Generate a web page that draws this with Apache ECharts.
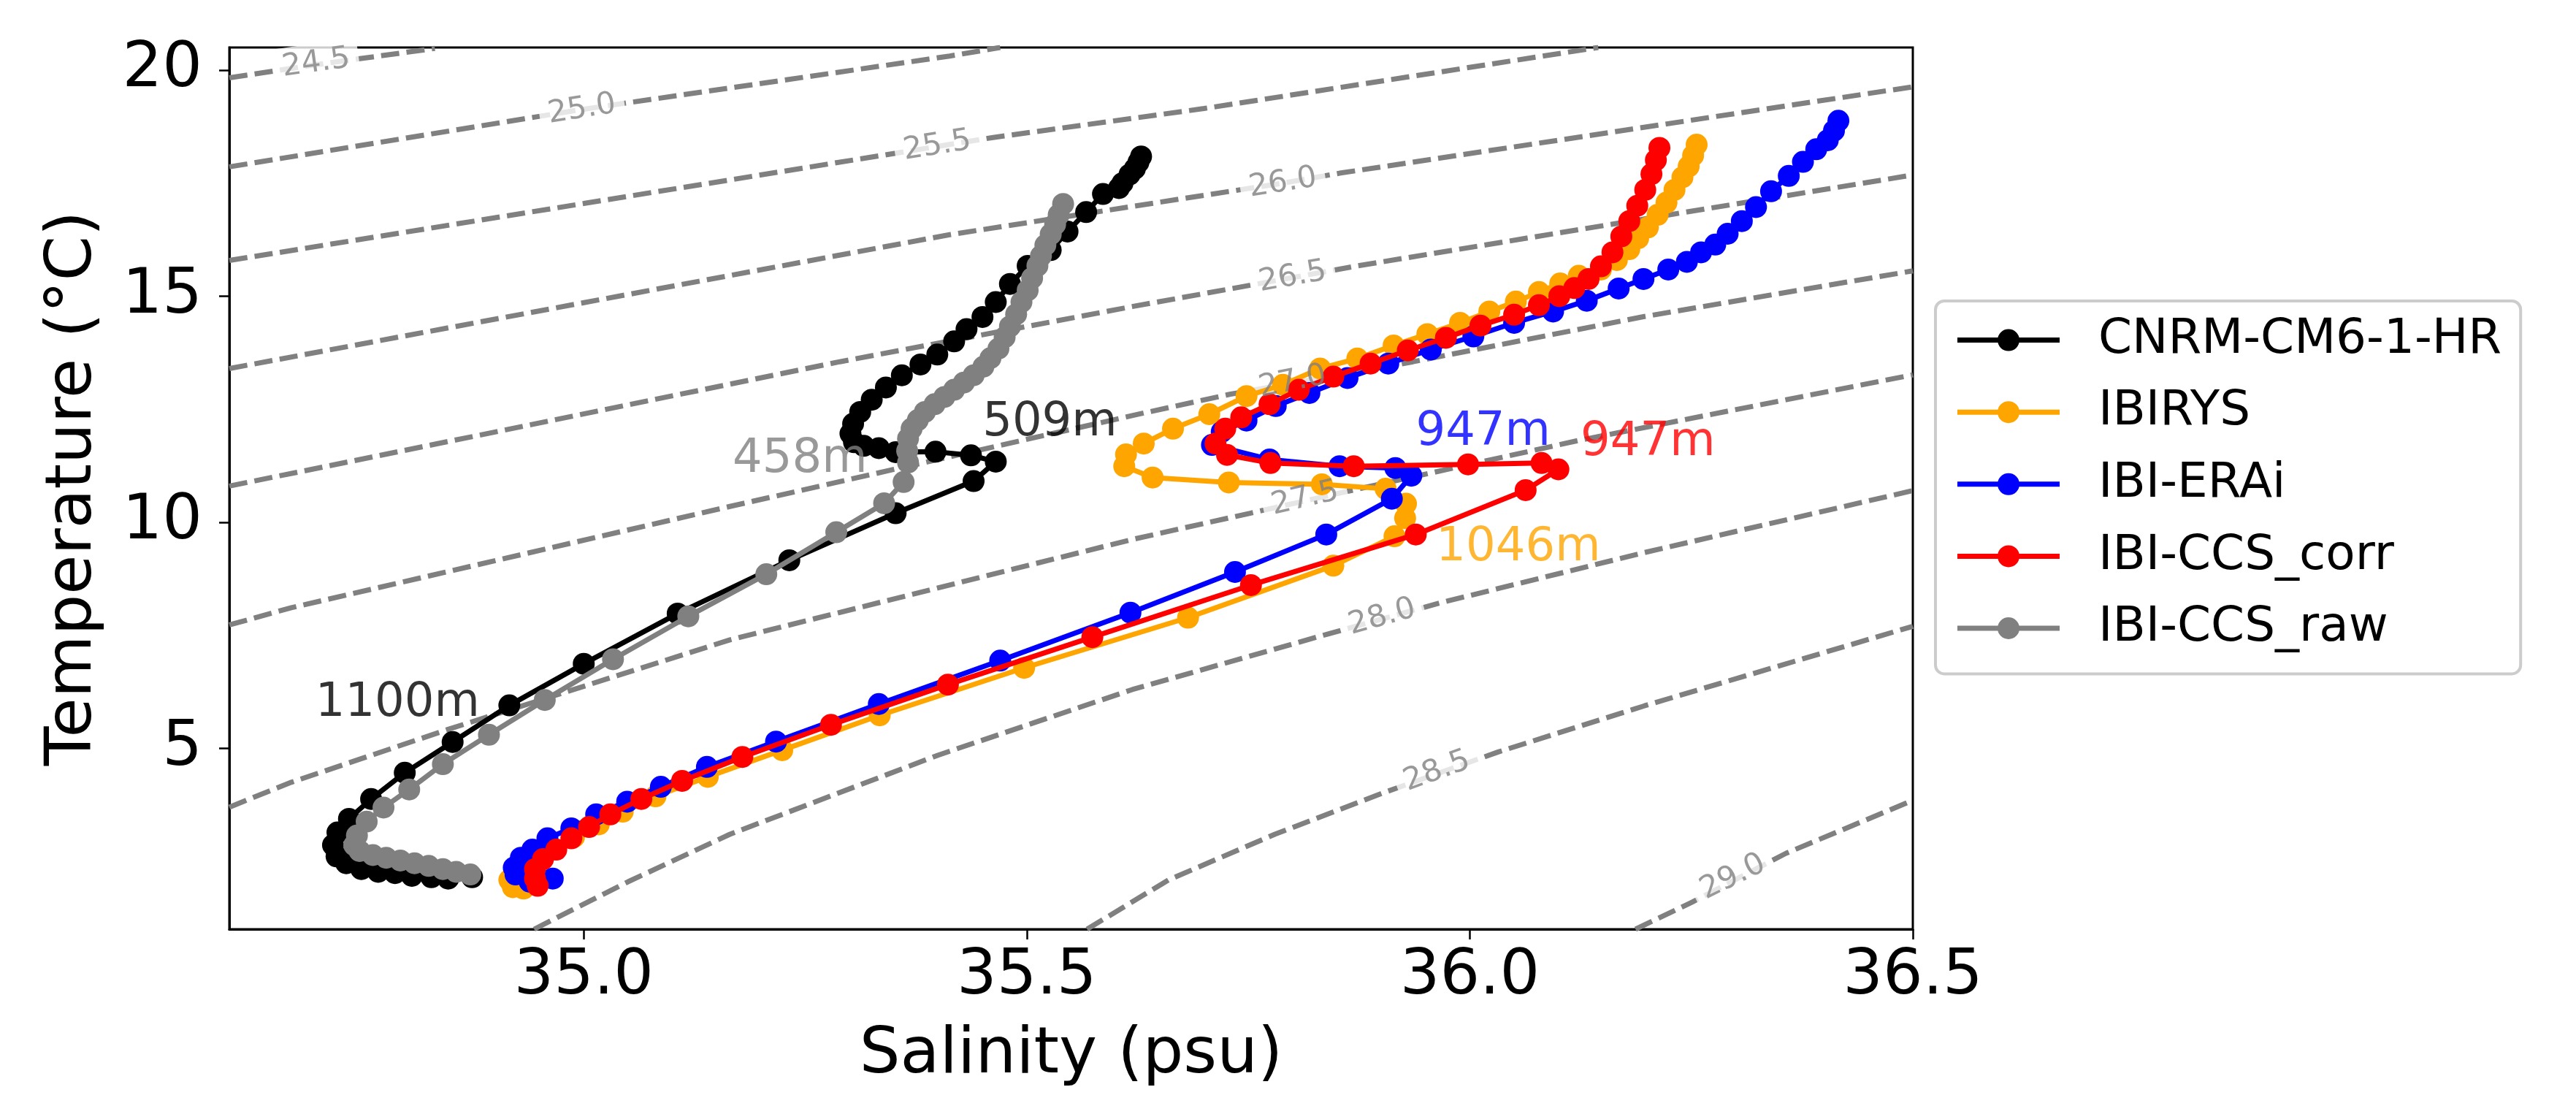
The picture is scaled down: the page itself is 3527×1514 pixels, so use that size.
<!DOCTYPE html>
<html><head><meta charset="utf-8">
<script src="https://cdn.jsdelivr.net/npm/echarts@6/dist/echarts.min.js"></script>
<style>html,body{margin:0;padding:0;background:#fff}#c{width:3527px;height:1514px}</style>
</head><body><div id="c"></div>
<script>
// ---------------- DATA ----------------
const salinityTicks = [35.0, 35.5, 36.0, 36.5];
const temperatureTicks = [5, 10, 15, 20];
const seriesNames = ['CNRM-CM6-1-HR', 'IBIRYS', 'IBI-ERAi', 'IBI-CCS_corr', 'IBI-CCS_raw'];

// [salinity (psu), temperature (°C)], surface -> depth
const cnrm = [[35.629,18.09],[35.626,17.96],[35.622,17.82],[35.616,17.69],[35.608,17.50],[35.604,17.39],[35.586,17.26],[35.567,16.86],[35.546,16.43],[35.527,16.02],[35.501,15.67],[35.481,15.27],[35.465,14.87],[35.450,14.54],[35.432,14.27],[35.418,14.00],[35.399,13.71],[35.380,13.49],[35.359,13.25],[35.341,12.98],[35.325,12.71],[35.312,12.44],[35.304,12.18],[35.301,11.96],[35.305,11.77],[35.316,11.69],[35.333,11.64],[35.352,11.55],[35.397,11.56],[35.437,11.48],[35.465,11.34],[35.440,10.91],[35.352,10.20],[35.232,9.16],[35.106,7.98],[35.000,6.87],[34.916,5.95],[34.852,5.14],[34.798,4.46],[34.760,3.88],[34.735,3.44],[34.722,3.14],[34.717,2.86],[34.721,2.61],[34.732,2.46],[34.749,2.33],[34.768,2.27],[34.787,2.24],[34.806,2.18],[34.828,2.15],[34.847,2.12],[34.874,2.15]];
const ibirys = [[36.256,18.35],[36.252,18.11],[36.247,17.87],[36.240,17.63],[36.231,17.35],[36.222,17.07],[36.212,16.80],[36.201,16.52],[36.190,16.28],[36.180,16.04],[36.166,15.80],[36.148,15.59],[36.123,15.45],[36.102,15.28],[36.078,15.09],[36.052,14.88],[36.022,14.66],[35.989,14.41],[35.952,14.16],[35.914,13.91],[35.873,13.62],[35.831,13.40],[35.789,13.04],[35.748,12.79],[35.706,12.39],[35.665,12.07],[35.632,11.74],[35.612,11.50],[35.610,11.24],[35.642,10.99],[35.728,10.88],[35.833,10.84],[35.905,10.74],[35.928,10.41],[35.927,10.09],[35.915,9.69],[35.846,9.04],[35.682,7.89],[35.497,6.78],[35.334,5.73],[35.224,4.96],[35.140,4.37],[35.081,3.94],[35.044,3.60],[35.017,3.32],[34.989,3.04],[34.965,2.76],[34.940,2.52],[34.923,2.33],[34.916,2.09],[34.920,1.93],[34.932,1.90]];
const ibiEraI = [[36.416,18.88],[36.411,18.66],[36.404,18.45],[36.391,18.25],[36.376,17.97],[36.360,17.66],[36.340,17.32],[36.323,16.97],[36.307,16.66],[36.291,16.38],[36.277,16.14],[36.261,15.97],[36.245,15.76],[36.224,15.59],[36.196,15.38],[36.168,15.17],[36.132,14.90],[36.094,14.66],[36.050,14.41],[36.004,14.11],[35.956,13.82],[35.908,13.51],[35.862,13.19],[35.819,12.86],[35.781,12.57],[35.748,12.25],[35.720,12.00],[35.709,11.71],[35.774,11.39],[35.853,11.24],[35.916,11.20],[35.934,11.03],[35.912,10.52],[35.838,9.73],[35.735,8.90],[35.617,8.00],[35.470,6.94],[35.333,5.98],[35.217,5.15],[35.139,4.59],[35.087,4.15],[35.049,3.82],[35.014,3.54],[34.986,3.23],[34.959,3.01],[34.942,2.76],[34.929,2.58],[34.921,2.36],[34.923,2.21],[34.939,2.05],[34.965,2.12]];
const ibiCcsCorr = [[36.214,18.28],[36.210,18.01],[36.205,17.70],[36.198,17.35],[36.189,17.00],[36.180,16.66],[36.171,16.32],[36.161,15.97],[36.148,15.66],[36.134,15.38],[36.118,15.18],[36.101,15.00],[36.078,14.80],[36.050,14.59],[36.012,14.35],[35.973,14.08],[35.930,13.80],[35.888,13.51],[35.846,13.22],[35.807,12.93],[35.774,12.61],[35.742,12.32],[35.724,12.07],[35.713,11.74],[35.726,11.49],[35.775,11.31],[35.869,11.24],[35.998,11.28],[36.081,11.31],[36.100,11.17],[36.063,10.71],[35.939,9.73],[35.753,8.61],[35.574,7.46],[35.411,6.41],[35.279,5.52],[35.179,4.81],[35.111,4.28],[35.065,3.88],[35.030,3.54],[35.006,3.26],[34.986,3.01],[34.969,2.76],[34.954,2.55],[34.945,2.33],[34.945,2.12],[34.948,1.96]];
const ibiCcsRaw = [[35.541,17.04],[35.536,16.80],[35.532,16.59],[35.527,16.37],[35.521,16.13],[35.516,15.89],[35.512,15.67],[35.506,15.40],[35.501,15.13],[35.494,14.87],[35.488,14.60],[35.481,14.33],[35.475,14.09],[35.468,13.84],[35.459,13.63],[35.451,13.44],[35.440,13.25],[35.429,13.09],[35.418,12.93],[35.407,12.77],[35.396,12.61],[35.385,12.44],[35.377,12.26],[35.370,12.07],[35.366,11.85],[35.365,11.58],[35.366,11.32],[35.361,10.89],[35.339,10.42],[35.285,9.78],[35.206,8.85],[35.118,7.92],[35.033,6.97],[34.956,6.07],[34.893,5.30],[34.841,4.65],[34.803,4.09],[34.774,3.69],[34.755,3.38],[34.744,3.07],[34.741,2.86],[34.747,2.73],[34.762,2.64],[34.777,2.58],[34.793,2.52],[34.809,2.46],[34.825,2.40],[34.841,2.33],[34.856,2.27],[34.872,2.21]];

// isopycnals (sigma-theta)
const sigmaLevels = ['24.5','25.0','25.5','26.0','26.5','27.0','27.5','28.0','28.5','29.0'];
const iso24_5 = [[34.6,19.83],[34.698,20.12],[34.832,20.48]];
const iso25_0 = [[34.6,17.86],[34.998,19.13],[35.413,20.31],[35.47,20.5]];
const iso25_5 = [[34.6,15.79],[35.0,17.05],[35.462,18.51],[35.70,19.15],[36.145,20.5]];
const iso26_0 = [[34.6,13.40],[35.413,16.36],[35.789,17.50],[35.853,17.72],[36.5,19.63]];
const iso26_5 = [[34.6,10.80],[35.289,13.55],[35.619,14.77],[35.873,15.67],[36.5,17.68]];
const iso27_0 = [[34.6,7.73],[34.67,8.11],[35.165,10.35],[35.619,12.36],[35.729,12.83],[35.936,13.55],[36.197,14.55],[36.5,15.56]];
const iso27_5 = [[34.6,3.70],[34.67,4.25],[34.847,5.42],[35.165,7.40],[35.619,9.62],[35.752,10.20],[35.877,10.75],[36.123,11.81],[36.5,13.26]];
const iso28_0 = [[34.944,1.0],[35.05,2.05],[35.165,3.10],[35.40,4.85],[35.619,6.30],[35.840,7.53],[35.967,8.22],[36.197,9.33],[36.5,10.70]];
const iso28_5 = [[35.568,1.0],[35.660,2.09],[35.780,3.10],[35.903,4.02],[36.032,4.92],[36.197,5.94],[36.5,7.70]];
const iso29_0 = [[36.187,1.0],[36.251,1.60],[36.357,2.68],[36.5,3.85]];
const sigmaLabelAt = [[34.698,20.15],[34.998,19.13],[35.399,18.32],[35.789,17.50],[35.800,15.42],[35.800,13.10],[35.814,10.52],[35.901,7.90],[35.963,4.49],[36.297,2.15]];

const depthLabels = ['509m','458m','1100m','947m','947m','1046m'];
const depthLabelAt = [[35.450,12.19],[35.168,11.38],[34.697,5.99],[35.939,11.98],[36.125,11.76],[35.962,9.42]];

// ---------------- STYLE ----------------
const FONT = 'DejaVu Sans';
const seriesColors = ['#000000','#FFA500','#0000FF','#FF0000','#808080'];
const seriesData = [cnrm, ibirys, ibiEraI, ibiCcsCorr, ibiCcsRaw];
const isoLines = [iso24_5, iso25_0, iso25_5, iso26_0, iso26_5, iso27_0, iso27_5, iso28_0, iso28_5, iso29_0];
const sigmaAngles = [8, 9, 9, 9, 10, 11.5, 13, 15.5, 20, 26];
const depthColors = ['#000000','#808080','#000000','#0000FF','#FF0000','#FFA500'];

const series = [];
isoLines.forEach((d) => series.push({
  type: 'line', data: d, symbol: 'none', showSymbol: false, silent: true, z: 1,
  lineStyle: { color: '#808080', width: 7, type: [25, 10], cap: 'butt' }
}));
series.push({
  type: 'scatter', silent: true, z: 2, symbolSize: 0,
  data: sigmaLabelAt.map((p, i) => ({ value: p, label: { formatter: sigmaLevels[i], rotate: sigmaAngles[i] } })),
  label: { show: true, position: 'inside', fontFamily: FONT, fontSize: 42, color: '#ffffff', backgroundColor: '#ffffff', padding: [6, 12] }
});
seriesNames.forEach((n, i) => series.push({
  name: n, type: 'line', data: seriesData[i], z: 3 + i,
  symbol: 'circle', symbolSize: 30, showSymbol: true,
  lineStyle: { color: seriesColors[i], width: 7 },
  itemStyle: { color: seriesColors[i] }
}));
series.push({
  type: 'scatter', silent: true, z: 20, symbolSize: 0,
  data: sigmaLabelAt.map((p, i) => ({ value: p, label: { formatter: sigmaLevels[i], rotate: sigmaAngles[i] } })),
  label: { show: true, position: 'inside', fontFamily: FONT, fontSize: 42, color: '#808080' }
});
series.push({
  type: 'scatter', silent: true, z: 21, symbolSize: 0,
  data: depthLabelAt.map((p, i) => ({ value: p, label: { formatter: depthLabels[i], color: depthColors[i] } })),
  label: { show: true, position: 'right', distance: 0, fontFamily: FONT, fontSize: 64 }
});

const chart = echarts.init(document.getElementById('c'), null, { renderer: 'canvas' });
chart.setOption({
  animation: false,
  backgroundColor: '#ffffff',
  grid: { left: 314, right: 908, top: 65, bottom: 242, show: true, borderColor: '#000', borderWidth: 3, backgroundColor: 'transparent' },
  xAxis: {
    type: 'value', min: 34.6, max: 36.5,
    name: 'Salinity (psu)', nameLocation: 'middle', nameGap: 129,
    nameTextStyle: { fontFamily: FONT, fontSize: 88, color: '#000' },
    axisLine: { show: true, onZero: false, lineStyle: { color: '#000', width: 3 } },
    axisTick: { show: true, inside: false, length: 14, lineStyle: { color: '#000', width: 2.5 }, customValues: salinityTicks },
    axisLabel: { customValues: salinityTicks, formatter: (v) => Number(v).toFixed(1), fontFamily: FONT, fontSize: 86, color: '#000', margin: 23 },
    splitLine: { show: false }
  },
  yAxis: {
    type: 'value', min: 1, max: 20.5,
    name: 'Temperature (°C)', nameLocation: 'middle', nameGap: 169,
    nameTextStyle: { fontFamily: FONT, fontSize: 88, color: '#000' },
    axisLine: { show: true, onZero: false, lineStyle: { color: '#000', width: 3 } },
    axisTick: { show: true, inside: false, length: 14, lineStyle: { color: '#000', width: 2.5 }, customValues: temperatureTicks },
    axisLabel: { customValues: temperatureTicks, formatter: (v) => String(v), fontFamily: FONT, fontSize: 86, color: '#000', margin: 37 },
    splitLine: { show: false }
  },
  legend: {
    show: true, data: seriesNames, orient: 'vertical', left: 2650, top: 412,
    itemWidth: 140, itemHeight: 37.5, itemGap: 32.6,
    padding: [20.6, 26, 29.4, 26.5],
    backgroundColor: '#ffffff', borderColor: '#cccccc', borderWidth: 4, borderRadius: 12,
    lineStyle: { width: 7 },
    textStyle: { fontFamily: FONT, fontSize: 66, color: '#000', lineHeight: 66, padding: [0, 0, 0, 48] }
  },
  series: series
});
</script>
</body></html>
